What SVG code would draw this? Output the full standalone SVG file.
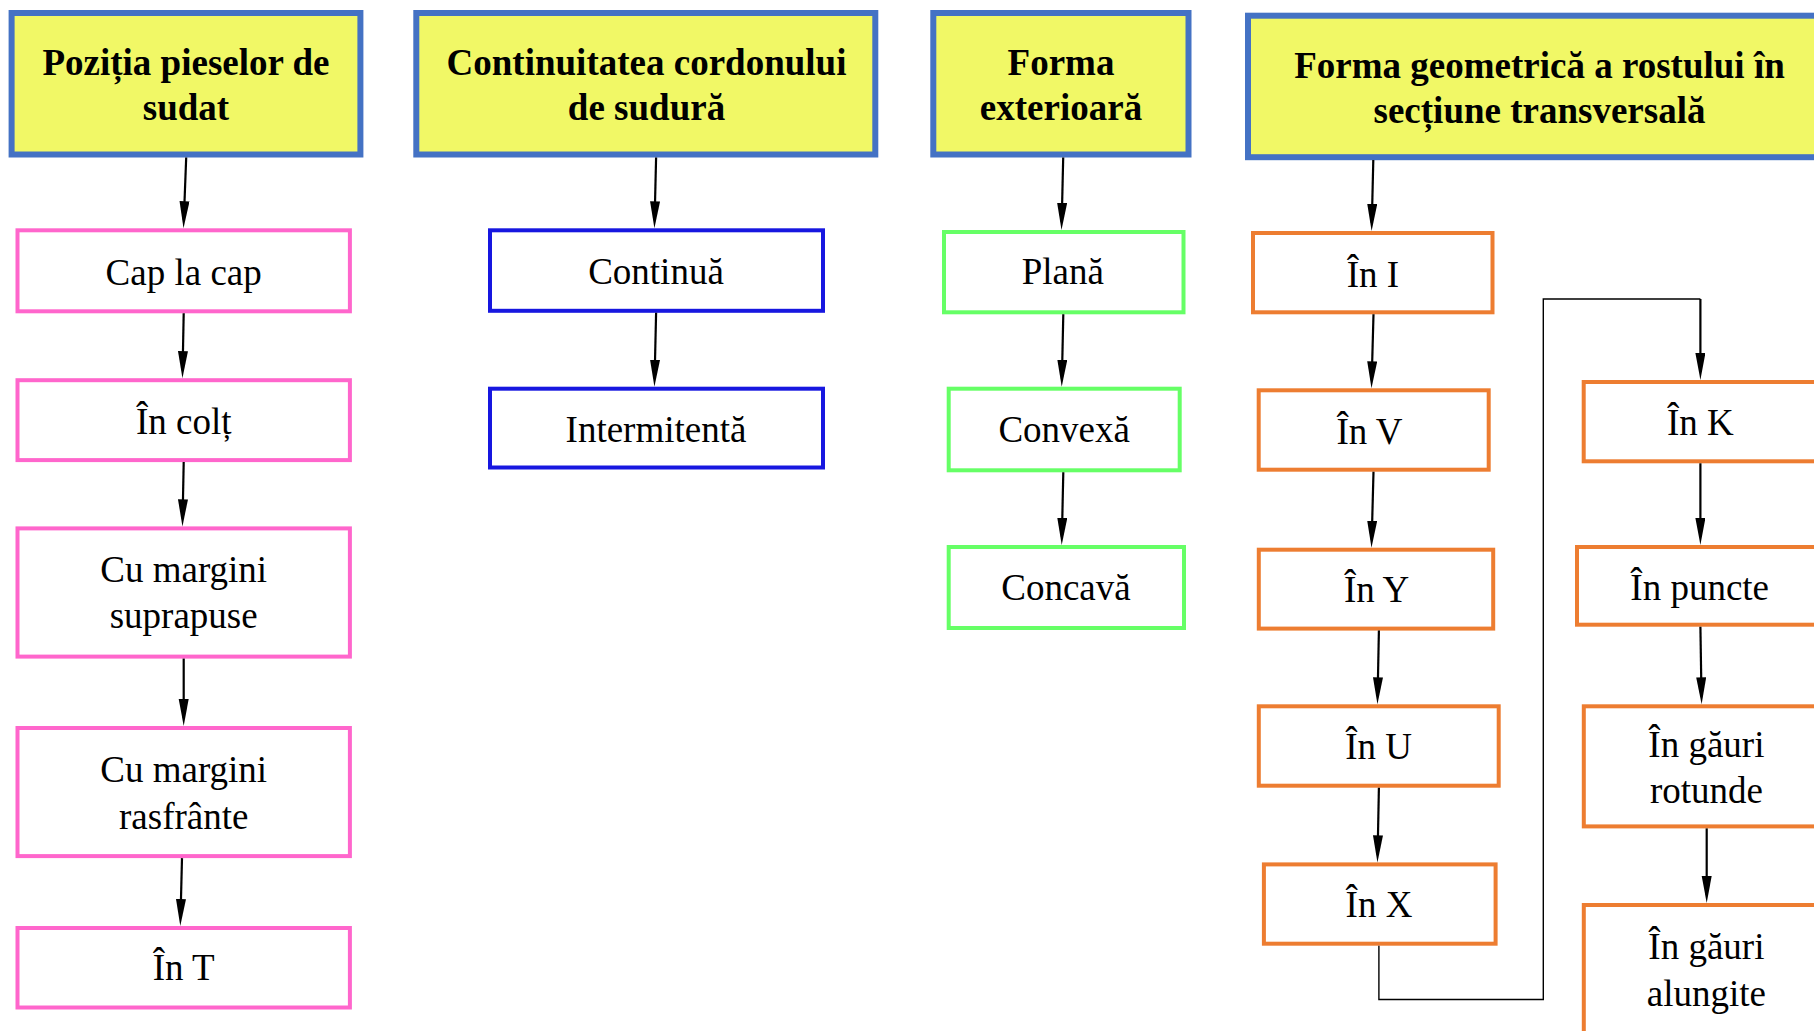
<svg xmlns="http://www.w3.org/2000/svg" width="1814" height="1031" viewBox="0 0 1814 1031">
  <style>
    .hdr rect { fill: #F1F866; stroke: #4472C4; stroke-width: 6; }
    .box rect { fill: #FFFFFF; stroke-width: 4; }
    .pink rect { stroke: #FF66CC; }
    .blue rect { stroke: #1717E0; }
    .green rect { stroke: #66FF66; }
    .orange rect { stroke: #ED7D31; }
    text { font-family: "Liberation Serif", "Times New Roman", serif; font-size: 37px; fill: #000000; text-anchor: middle; }
    .hdr text { font-weight: bold; }
    .edges line, .edges path { stroke: #000000; fill: none; }
    .edges line { stroke-width: 2.2; }
    .edges .route { stroke-width: 1.4; }
  </style>
  <defs>
    <marker id="arrow" markerUnits="userSpaceOnUse" markerWidth="28" markerHeight="11" refX="19" refY="5" orient="auto">
      <path d="M0,0 L27,5 L0,10 z" fill="#000000"/>
    </marker>
  </defs>
  <rect x="0" y="0" width="1814" height="1031" fill="#FFFFFF"/>

  <!-- category headers -->
  <g id="hdr-pozitia" class="hdr">
    <rect x="11.6" y="13" width="348.8" height="141.5"/>
    <text x="186" y="75">Poziția pieselor de</text>
    <text x="186" y="119.5">sudat</text>
  </g>
  <g id="hdr-continuitatea" class="hdr">
    <rect x="416.3" y="13" width="459" height="141.5"/>
    <text x="646.5" y="75">Continuitatea cordonului</text>
    <text x="646.5" y="119.5">de sudură</text>
  </g>
  <g id="hdr-forma-ext" class="hdr">
    <rect x="933.3" y="13" width="255.2" height="141.5"/>
    <text x="1061" y="75">Forma</text>
    <text x="1061" y="119.5">exterioară</text>
  </g>
  <g id="hdr-forma-geom" class="hdr">
    <rect x="1248" y="15.7" width="600" height="141.5"/>
    <text x="1539.5" y="78">Forma geometrică a rostului în</text>
    <text x="1539.5" y="122.5">secțiune transversală</text>
  </g>

  <!-- piece position -->
  <g id="n-cap-la-cap" class="box pink">
    <rect x="17.5" y="230.3" width="332.4" height="81"/>
    <text x="183.7" y="285">Cap la cap</text>
  </g>
  <g id="n-in-colt" class="box pink">
    <rect x="17.5" y="380.2" width="332.4" height="79.9"/>
    <text x="183.7" y="434">În colț</text>
  </g>
  <g id="n-suprapuse" class="box pink">
    <rect x="17.5" y="528.4" width="332.4" height="128.2"/>
    <text x="183.7" y="582.2">Cu margini</text>
    <text x="183.7" y="628.2">suprapuse</text>
  </g>
  <g id="n-rasfrante" class="box pink">
    <rect x="17.5" y="728" width="332.4" height="128.1"/>
    <text x="183.7" y="781.8">Cu margini</text>
    <text x="183.7" y="828.7">rasfrânte</text>
  </g>
  <g id="n-in-t" class="box pink">
    <rect x="17.5" y="928" width="332.4" height="79.5"/>
    <text x="183.7" y="979.6">În T</text>
  </g>

  <!-- bead continuity -->
  <g id="n-continua" class="box blue">
    <rect x="490" y="230.3" width="333" height="80.5"/>
    <text x="656" y="284.3">Continuă</text>
  </g>
  <g id="n-intermitenta" class="box blue">
    <rect x="490" y="388.7" width="333" height="78.8"/>
    <text x="656" y="441.7">Intermitentă</text>
  </g>

  <!-- outer shape -->
  <g id="n-plana" class="box green">
    <rect x="944" y="232" width="239.5" height="80.3"/>
    <text x="1062.8" y="284.3">Plană</text>
  </g>
  <g id="n-convexa" class="box green">
    <rect x="948.7" y="388.7" width="231" height="81.6"/>
    <text x="1064.2" y="441.7">Convexă</text>
  </g>
  <g id="n-concava" class="box green">
    <rect x="948.7" y="547" width="235.3" height="81"/>
    <text x="1066" y="600">Concavă</text>
  </g>

  <!-- joint cross-section -->
  <g id="n-in-i" class="box orange">
    <rect x="1253" y="233" width="239.5" height="79.3"/>
    <text x="1373" y="286.7">În I</text>
  </g>
  <g id="n-in-v" class="box orange">
    <rect x="1258.7" y="390.3" width="230" height="79.4"/>
    <text x="1369.5" y="444">În V</text>
  </g>
  <g id="n-in-y" class="box orange">
    <rect x="1258.8" y="549.7" width="234.4" height="78.9"/>
    <text x="1376.6" y="602.3">În Y</text>
  </g>
  <g id="n-in-u" class="box orange">
    <rect x="1258.8" y="706.3" width="239.9" height="79.4"/>
    <text x="1378.6" y="758.9">În U</text>
  </g>
  <g id="n-in-x" class="box orange">
    <rect x="1263.9" y="864.4" width="231.7" height="79.3"/>
    <text x="1379" y="917">În X</text>
  </g>
  <g id="n-in-k" class="box orange">
    <rect x="1583.7" y="382" width="238" height="79.3"/>
    <text x="1700.3" y="435">În K</text>
  </g>
  <g id="n-in-puncte" class="box orange">
    <rect x="1577" y="547" width="250" height="77.7"/>
    <text x="1699.7" y="600">În puncte</text>
  </g>
  <g id="n-gauri-rotunde" class="box orange">
    <rect x="1583.8" y="706.3" width="250" height="120.1"/>
    <text x="1706.4" y="756.5">În găuri</text>
    <text x="1706.4" y="803">rotunde</text>
  </g>
  <g id="n-gauri-alungite" class="box orange">
    <rect x="1583.8" y="905" width="250" height="140"/>
    <text x="1706.4" y="959">În găuri</text>
    <text x="1706.4" y="1005.6">alungite</text>
  </g>

  <!-- connectors -->
  <g id="edges" class="edges">
    <line x1="186.2" y1="157.5" x2="183.8" y2="220.3" marker-end="url(#arrow)"/>
    <line x1="183.7" y1="313.3" x2="182.6" y2="370.2" marker-end="url(#arrow)"/>
    <line x1="183.7" y1="462.1" x2="182.6" y2="518.4" marker-end="url(#arrow)"/>
    <line x1="183.7" y1="658.6" x2="183.7" y2="718" marker-end="url(#arrow)"/>
    <line x1="182" y1="858.1" x2="180.5" y2="918" marker-end="url(#arrow)"/>

    <line x1="656.1" y1="157.5" x2="654.6" y2="220.3" marker-end="url(#arrow)"/>
    <line x1="656.1" y1="312.8" x2="654.6" y2="378.7" marker-end="url(#arrow)"/>

    <line x1="1063.2" y1="157.5" x2="1061.7" y2="222" marker-end="url(#arrow)"/>
    <line x1="1063.3" y1="314.3" x2="1061.9" y2="378.7" marker-end="url(#arrow)"/>
    <line x1="1063.3" y1="472.3" x2="1061.9" y2="537" marker-end="url(#arrow)"/>

    <line x1="1373.3" y1="160" x2="1371.8" y2="223" marker-end="url(#arrow)"/>
    <line x1="1373.5" y1="314.3" x2="1371.7" y2="380.3" marker-end="url(#arrow)"/>
    <line x1="1373.5" y1="471.7" x2="1371.7" y2="539.7" marker-end="url(#arrow)"/>
    <line x1="1378.9" y1="630.6" x2="1377.6" y2="696.3" marker-end="url(#arrow)"/>
    <line x1="1378.9" y1="787.7" x2="1377.6" y2="854.4" marker-end="url(#arrow)"/>

    <path class="route" d="M1378.9,945.7 L1378.9,999.5 L1543.3,999.5 L1543.3,299 L1700.4,299"/>
    <line x1="1700.4" y1="299" x2="1700.4" y2="372" marker-end="url(#arrow)"/>

    <line x1="1700.4" y1="463.3" x2="1700.4" y2="537" marker-end="url(#arrow)"/>
    <line x1="1700.4" y1="626.7" x2="1701.5" y2="696.3" marker-end="url(#arrow)"/>
    <line x1="1706.7" y1="828.4" x2="1706.7" y2="895" marker-end="url(#arrow)"/>
  </g>
</svg>
